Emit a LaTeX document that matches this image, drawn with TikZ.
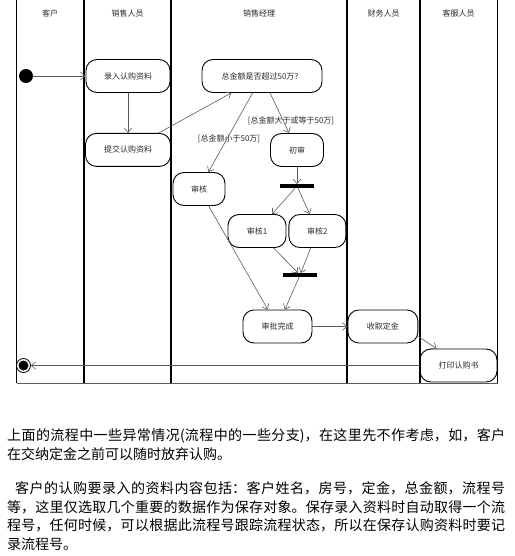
\documentclass[tikz,border=0pt]{standalone}
\usepackage{fontspec}
\setmainfont{Noto Sans CJK SC}
\usetikzlibrary{arrows.meta,positioning}
\XeTeXlinebreaklocale "zh"
\XeTeXlinebreakskip=0pt plus 1pt
\definecolor{linegray}{HTML}{5A5A5A}
\definecolor{textgray}{HTML}{2A2A2A}

\begin{document}
\begin{tikzpicture}[
    x=1pt, y=-1pt,
    act/.style={draw, line width=0.9pt, rounded corners=11pt, minimum height=33pt,
      inner sep=2pt, font=\fontsize{8}{9}\selectfont, text=textgray},
    bar/.style={fill=black, minimum width=34pt, minimum height=3.5pt, inner sep=0pt},
    guard/.style={inner sep=0pt, font=\fontsize{8}{9}\selectfont, text=textgray},
    head/.style={font=\fontsize{8}{9}\selectfont, text=textgray},
    endstate/.style={circle, draw, line width=0.8pt, minimum size=14pt, inner sep=0pt,
      path picture={\fill (path picture bounding box.center) circle (5pt);}},
    para/.style={anchor=north west, text width=498pt, align=justify, inner sep=0pt,
      font=\fontsize{14}{18.7}\selectfont},
    flow/.style={->, draw=linegray, line width=0.6pt},
    lane/.style={line width=1.3pt},
    >={Straight Barb[length=4.5pt,width=7.5pt]}
  ]
  \useasboundingbox (0,0) rectangle (514,556);

  % swimlanes
  \foreach \x in {16.5,84,171,347,420,497.5}
    \draw[lane] (\x,0) -- (\x,383);
  \draw[linegray, line width=0.8pt] (16.5,383) -- (497.5,383);
  \foreach \x/\t/\n in {50/客户/client, 127.5/销售人员/sales, 259/销售经理/manager,
                        383.5/财务人员/finance, 458.5/客服人员/service}
    \node[head] (\n) at (\x,13) {\t};

  % activities
  \node[circle, fill=black, minimum size=14pt, inner sep=0pt] (start) at (26,76) {};
  \node[act, minimum width=84pt] (enter) at (128,76) {录入认购资料};
  \node[act, minimum width=85pt, below=40pt of enter] (submit) {提交认购资料};
  \node[act, minimum width=120pt] (decide) at (262,76) {总金额是否超过50万？};
  \node[act, minimum width=53pt] (first) at (297,150) {初审};
  \node[act, minimum width=52pt] (check) at (199,189) {审核};
  \node[bar] (fork) at (297,186) {};
  \node[act, minimum width=58pt] (rev1) at (257,231) {审核1};
  \node[act, minimum width=57pt, right=2pt of rev1] (rev2) {审核2};
  \node[bar] (join) at (300,275) {};
  \node[act, minimum width=69pt] (done) at (277.5,326.5) {审批完成};
  \node[act, minimum width=70pt, right=35pt of done] (cash) {收取定金};
  \node[act, minimum width=77pt] (print) at (458.5,365.5) {打印认购书};
  \node[endstate] (final) at (23.5,365.5) {};

  % guards
  \node[guard] (geLabel) at (291,121) {[总金额大于或等于50万]};
  \node[guard] (ltLabel) at (229,139) {[总金额小于50万]};

  % transitions
  \draw[flow] (start) -- (enter);
  \draw[flow] (enter) -- (submit);
  \draw[flow] (submit) -- (decide);
  \draw[flow] (decide) -- (check);
  \draw[flow] (decide) -- (first);
  \draw[flow] (first) -- (fork);
  \draw[flow] (fork) -- (rev1);
  \draw[flow] (fork) -- (rev2);
  \draw[flow] (rev1) -- (join);
  \draw[flow] (rev2) -- (join);
  \draw[flow] (join) -- (done);
  \draw[flow] (check) -- (done);
  \draw[flow] (done) -- (cash);
  \draw[flow] ([yshift=-10pt]cash.east) -- ([xshift=-22pt]print.north);
  \draw[flow] (print.west) -- (final);

  % notes below the diagram
  \node[para] (note1) at (7,428.5) {上面的流程中一些异常情况(流程中的一些分支)，在这里先不作考虑，如，客户\linebreak 在交纳定金之前可以随时放弃认购。};
  \node[para] (note2) at (7,481.5) {\hspace*{8pt}客户的认购要录入的资料内容包括：客户姓名，房号，定金，总金额，流程号\linebreak 等，这里仅选取几个重要的数据作为保存对象。保存录入资料时自动取得一个流\linebreak 程号，任何时候，可以根据此流程号跟踪流程状态，所以在保存认购资料时要记\linebreak 录流程号。};
\end{tikzpicture}
\end{document}
